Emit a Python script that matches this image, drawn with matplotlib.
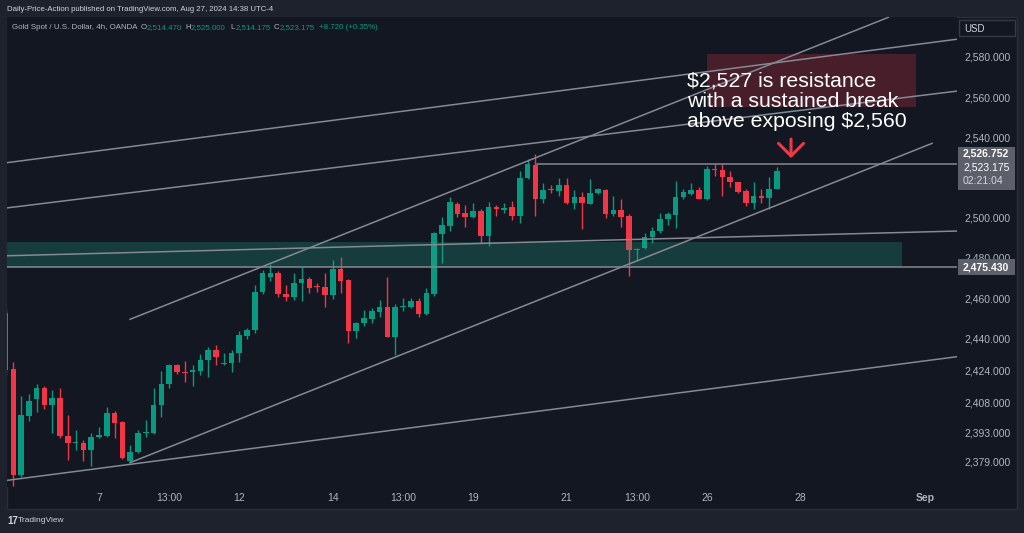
import matplotlib
matplotlib.use("Agg")
import matplotlib.pyplot as plt
from matplotlib.patches import Rectangle
import numpy as np

plt.rcParams["font.family"] = ["Liberation Sans", "DejaVu Sans"]

# 4h candles, Aug 5 01:00 -> Aug 27 13:00 (bar index 0..99)
OPEN = [2452.7, 2424.7, 2372.1, 2401.6, 2410.0, 2415.2, 2406.8, 2410.2, 2391.5, 2388.0,
        2388.2, 2384.5, 2391.1, 2391.6, 2402.8, 2398.4, 2379.2, 2383.4, 2392.8, 2392.8,
        2406.8, 2417.4, 2426.8, 2423.5, 2423.3, 2424.0, 2429.1, 2434.3, 2427.4, 2427.6,
        2432.6, 2441.4, 2444.2, 2462.9, 2470.4, 2472.4, 2462.1, 2460.8, 2467.4, 2469.7,
        2466.2, 2465.7, 2461.6, 2474.5, 2469.1, 2443.8, 2447.8, 2449.8, 2453.0, 2455.6,
        2440.9, 2455.8, 2455.8, 2458.6, 2452.2, 2462.0, 2491.8, 2495.9, 2506.9, 2502.2,
        2500.5, 2503.5, 2491.1, 2505.5, 2503.7, 2505.2, 2501.0, 2519.9, 2526.2, 2509.2,
        2514.2, 2513.5, 2516.4, 2507.2, 2510.5, 2506.9, 2512.2, 2513.8, 2501.9, 2503.9,
        2500.9, 2484.0, 2485.1, 2490.3, 2493.6, 2499.2, 2501.4, 2510.2, 2511.8, 2513.8,
        2509.3, 2524.3, 2523.8, 2520.1, 2517.6, 2513.3, 2507.2, 2511.0, 2509.7, 2514.47]
HIGH = [2455.0, 2428.4, 2411.4, 2412.2, 2417.5, 2416.4, 2414.4, 2415.5, 2401.9, 2394.5,
        2389.5, 2393.1, 2396.1, 2406.1, 2403.9, 2399.0, 2387.0, 2394.5, 2399.4, 2415.2,
        2424.0, 2427.3, 2427.3, 2428.8, 2426.8, 2432.3, 2435.9, 2436.7, 2432.9, 2434.3,
        2443.7, 2445.3, 2466.6, 2474.0, 2477.0, 2473.7, 2466.6, 2472.7, 2475.7, 2470.4,
        2467.7, 2472.7, 2479.0, 2480.4, 2469.7, 2448.3, 2454.1, 2455.3, 2459.1, 2470.4,
        2457.0, 2460.0, 2460.0, 2460.0, 2464.9, 2493.1, 2500.5, 2510.2, 2508.0, 2506.4,
        2507.5, 2504.2, 2508.0, 2506.4, 2507.2, 2508.5, 2523.3, 2529.1, 2531.6, 2517.1,
        2516.3, 2519.6, 2519.6, 2513.8, 2513.0, 2519.4, 2514.7, 2514.2, 2510.8, 2509.2,
        2501.9, 2484.8, 2492.6, 2495.3, 2502.2, 2502.9, 2518.3, 2514.2, 2517.1, 2515.4,
        2525.9, 2526.6, 2526.6, 2523.4, 2517.9, 2514.2, 2517.6, 2514.2, 2520.4, 2525.0]
LOW = [2422.0, 2366.8, 2371.0, 2399.0, 2403.6, 2404.8, 2393.1, 2390.3, 2379.5, 2384.5,
       2379.0, 2376.7, 2390.5, 2391.1, 2390.3, 2380.0, 2378.7, 2383.0, 2391.1, 2392.5,
       2401.1, 2415.2, 2422.2, 2418.5, 2416.4, 2421.8, 2420.7, 2426.8, 2426.8, 2423.5,
       2428.4, 2439.6, 2442.6, 2461.9, 2468.7, 2460.5, 2458.8, 2459.1, 2458.8, 2462.7,
       2463.2, 2455.5, 2459.6, 2462.7, 2437.9, 2440.1, 2446.2, 2447.8, 2450.5, 2440.6,
       2431.8, 2453.8, 2455.0, 2450.8, 2451.7, 2461.2, 2477.4, 2493.6, 2500.5, 2495.6,
       2499.7, 2487.3, 2486.0, 2501.0, 2502.2, 2498.9, 2497.6, 2519.3, 2501.0, 2507.2,
       2512.2, 2510.8, 2506.9, 2504.4, 2494.3, 2506.7, 2511.7, 2499.7, 2500.9, 2495.6,
       2471.1, 2478.6, 2484.3, 2487.3, 2492.3, 2496.3, 2494.8, 2509.2, 2511.3, 2509.3,
       2508.8, 2520.9, 2510.8, 2515.4, 2512.2, 2505.9, 2504.2, 2507.2, 2504.2, 2514.175]
CLOSE = [2424.3, 2372.1, 2401.8, 2409.0, 2415.2, 2406.8, 2410.2, 2391.3, 2388.0, 2388.5,
         2384.5, 2391.1, 2392.1, 2402.8, 2398.1, 2380.4, 2383.7, 2392.8, 2393.3, 2406.9,
         2417.4, 2426.8, 2423.2, 2423.0, 2424.3, 2429.3, 2434.3, 2430.6, 2427.8, 2432.9,
         2441.7, 2444.2, 2462.9, 2472.4, 2472.4, 2461.9, 2460.5, 2467.7, 2469.7, 2464.9,
         2465.5, 2461.6, 2474.5, 2468.7, 2443.8, 2447.8, 2450.2, 2453.6, 2455.6, 2440.9,
         2455.8, 2456.3, 2458.6, 2452.2, 2462.4, 2492.3, 2496.4, 2508.0, 2501.9, 2500.5,
         2503.5, 2491.1, 2505.5, 2504.4, 2505.0, 2500.9, 2519.9, 2526.7, 2509.2, 2513.8,
         2513.7, 2516.4, 2507.2, 2510.5, 2507.2, 2512.5, 2514.2, 2501.9, 2503.9, 2500.5,
         2484.0, 2484.6, 2490.3, 2493.6, 2499.2, 2501.7, 2510.5, 2513.0, 2513.8, 2509.3,
         2524.3, 2524.0, 2520.1, 2517.9, 2513.0, 2507.2, 2511.0, 2509.8, 2514.2, 2523.175]

TIME_TICKS = [12, 21, 30, 42, 51, 60, 72, 81, 90, 102, 118]
TIME_LABELS = ["7", "13:00", "12", "14", "13:00", "19", "21", "13:00", "26", "28", "Sep"]
PRICE_TICKS = [2379, 2393, 2408, 2424, 2440, 2460, 2480, 2500, 2540, 2560, 2580]

RESISTANCE = 2526.752
SUPPORT = 2475.430
ZONE_TOP = 2487.7

# drawn trendlines: (bar, price) -> (bar, price)
TRENDLINES = [
    ((0.19, 2527.4), (122.1, 2588.8)),
    ((0.19, 2504.9), (122.1, 2563.0)),
    ((15.98, 2449.5), (113.3, 2599.7)),
    ((15.98, 2378.2), (118.9, 2537.0)),
    ((0.19, 2369.4), (122.1, 2430.9)),
    ((0.19, 2481.1), (122.1, 2493.4)),
]

BG = "#131722"
OUTER = "#1e222d"
UP = "#089981"
DOWN = "#f23645"
LINE = "#868993"
TXT = "#b2b5be"
W, H = 1024, 533


def fx(px):
    return px / W


def fy(py):
    return 1 - py / H


fig = plt.figure(figsize=(W / 100, H / 100), dpi=100, facecolor=OUTER)
fig.add_artist(Rectangle((fx(7), fy(509)), fx(1017) - fx(7), fy(17.3) - fy(509),
                         transform=fig.transFigure, facecolor=BG, edgecolor="#2a2e39",
                         lw=1, zorder=-10))

ax = fig.add_axes([fx(7), fy(487), fx(957) - fx(7), fy(17.3) - fy(487)])
ax.set_facecolor(BG)
ax.set_xlim(0.19, 122.1)
ax.set_ylim(2366.1, 2599.7)
for s in ax.spines.values():
    s.set_visible(False)

x = np.arange(len(OPEN))
o, h, l, c = map(np.array, (OPEN, HIGH, LOW, CLOSE))
colors = np.where(c >= o, UP, DOWN)
ax.vlines(x, l, h, colors=colors, lw=1, zorder=2)
ax.bar(x, np.maximum(np.abs(c - o), 0.5), bottom=np.minimum(o, c), width=0.72,
       color=colors, lw=0, zorder=3)

# support zone and resistance box
ax.add_patch(Rectangle((-2, SUPPORT), 117, ZONE_TOP - SUPPORT, facecolor="#22ab94",
                       alpha=0.25, lw=0, zorder=4))
ax.add_patch(Rectangle((90.0, 2555.2), 26.9, 26.1, facecolor=DOWN, alpha=0.24,
                       lw=0, zorder=4))

for (x0, y0), (x1, y1) in TRENDLINES:
    ax.plot([x0, x1], [y0, y1], color=LINE, lw=1.1, zorder=5)
ax.axhline(SUPPORT, color=LINE, lw=1.1, zorder=5)
ax.plot([68.2, 130], [RESISTANCE, RESISTANCE], color=LINE, lw=1.1, zorder=5)

for txt, yb in zip(["$2,527 is resistance", "with a sustained break",
                    "above exposing $2,560"], [2565.5, 2555.2, 2545.0]):
    ax.text(87.4, yb, txt, color="white", fontsize=15.3, va="baseline", ha="left", zorder=6)
ax.annotate("", xy=(100.8, 2528.3), xytext=(100.8, 2540.5),
            arrowprops=dict(arrowstyle="->,head_length=0.5,head_width=0.5",
                            color=DOWN, lw=2.2, mutation_scale=18), zorder=6)

ax.set_xticks(TIME_TICKS)
ax.set_xticklabels(TIME_LABELS)
for lab in ax.get_xticklabels():
    lab.set_color("#d1d4dc" if lab.get_text() == "Sep" else TXT)
    if lab.get_text() == "Sep":
        lab.set_fontweight("bold")
ax.set_yticks(PRICE_TICKS)
ax.set_yticklabels([f"{v:,.3f}" for v in PRICE_TICKS])
ax.yaxis.tick_right()
ax.tick_params(axis="y", length=0, pad=5, labelsize=7.5, labelcolor=TXT)
ax.tick_params(axis="x", length=0, pad=4.5, labelsize=7.5, labelcolor=TXT)

# price labels on the scale
fig.add_artist(Rectangle((fx(958), fy(190)), fx(1015) - fx(958), fy(147) - fy(190),
                         transform=fig.transFigure, facecolor="#5d606b", lw=0, zorder=5))
fig.text(fx(963), fy(154), f"{RESISTANCE:,.3f}", color="white", fontsize=7.5,
         fontweight="bold", va="center", zorder=6)
fig.text(fx(963), fy(168), f"{CLOSE[-1]:,.3f}", color="white", fontsize=7.5,
         va="center", zorder=6)
fig.text(fx(963), fy(181), "02:21:04", color="#d1d4dc", fontsize=7.5, va="center", zorder=6)
fig.add_artist(Rectangle((fx(958), fy(275)), fx(1015) - fx(958), fy(259) - fy(275),
                         transform=fig.transFigure, facecolor="#5d606b", lw=0, zorder=5))
fig.text(fx(963), fy(267), f"{SUPPORT:,.3f}", color="white", fontsize=7.5,
         fontweight="bold", va="center", zorder=6)

fig.add_artist(Rectangle((fx(959), fy(36)), fx(1015) - fx(959), fy(20) - fy(36),
                         transform=fig.transFigure, facecolor=BG, edgecolor="#363a45",
                         lw=1, zorder=5))
fig.text(fx(964), fy(28.5), "USD", color="#d1d4dc", fontsize=7, va="center", zorder=6)

# header / legend / footer
fig.text(fx(7), fy(9.5), "Daily-Price-Action published on TradingView.com, Aug 27, 2024 14:38 UTC-4",
         color="#d1d4dc", fontsize=5.6, va="center")
legend = [(12, "Gold Spot / U.S. Dollar, 4h, OANDA", TXT), (140.7, "O", TXT),
          (146.5, "2,514.470", UP), (185, "H", TXT), (191, "2,525.000", UP),
          (230.7, "L", TXT), (236, "2,514.175", UP), (274, "C", TXT),
          (280, "2,523.175", UP), (319.3, "+8.720 (+0.35%)", UP)]
for px, s, col in legend:
    fig.text(fx(px), fy(27.5), s, color=col, fontsize=5.7, va="center")

fig.text(fx(7), fy(521), "17", color="#d1d4dc", fontsize=7, fontweight="bold", va="center")
fig.text(fx(18), fy(521), "TradingView", color="#d1d4dc", fontsize=6, va="center")

fig.savefig("out.png", dpi=100, facecolor=OUTER)
